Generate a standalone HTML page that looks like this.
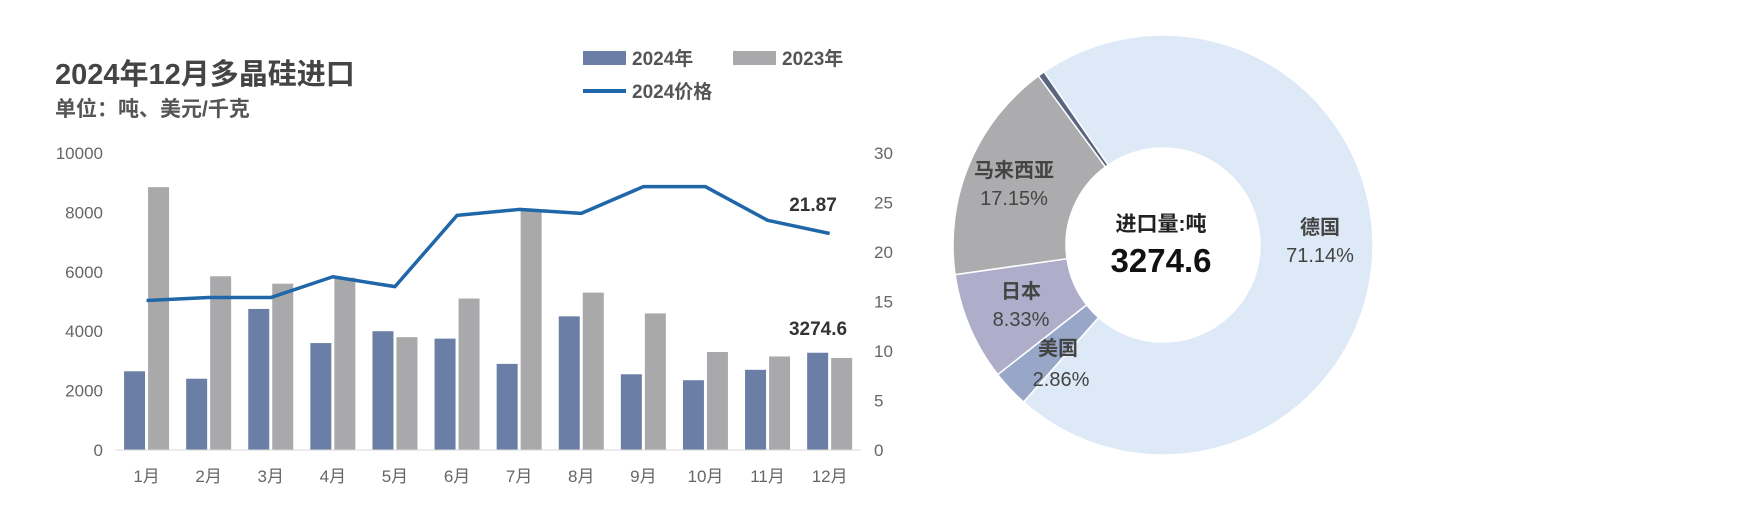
<!DOCTYPE html>
<html><head><meta charset="utf-8"><style>
body{margin:0;background:#fff;}
svg{display:block;font-family:"Liberation Sans","Noto Sans CJK SC",sans-serif;}
</style></head><body>
<svg id="c" width="1741" height="531" viewBox="0 0 1741 531">
<text x="55" y="84" font-size="29" font-weight="bold" fill="#444">2024年12月多晶硅进口</text>
<text x="55" y="116" font-size="21" font-weight="bold" fill="#555">单位：吨、美元/千克</text>
<g>
<rect x="583" y="51" width="43" height="14" fill="#6b7fa6"/>
<text x="632" y="65" font-size="19" font-weight="bold" fill="#555">2024年</text>
<rect x="733" y="51" width="43" height="14" fill="#a9a9ab"/>
<text x="782" y="65" font-size="19" font-weight="bold" fill="#555">2023年</text>
<line x1="583" y1="91" x2="626" y2="91" stroke="#1f67a8" stroke-width="4"/>
<text x="632" y="98" font-size="19" font-weight="bold" fill="#555">2024价格</text>
</g>
<g id="bars"></g><g id="axes"></g><g id="lineg"></g><g id="pie"></g>
<text x="813" y="211" font-size="19" font-weight="bold" fill="#333" text-anchor="middle">21.87</text>
<text x="818" y="335" font-size="19" font-weight="bold" fill="#333" text-anchor="middle">3274.6</text>
</svg>
<script>
const months=['1月','2月','3月','4月','5月','6月','7月','8月','9月','10月','11月','12月'];
const vol2024=[2650,2400,4750,3600,4000,3750,2900,4500,2550,2350,2700,3274.6];
const vol2023=[8850,5850,5600,5800,3800,5100,8050,5300,4600,3300,3150,3100];
const price2024=[15.1,15.4,15.4,17.5,16.5,23.7,24.3,23.9,26.6,26.6,23.2,21.87];
const leftTicks=[0,2000,4000,6000,8000,10000];
const rightTicks=[0,5,10,15,20,25,30];
const pieNames=['德国','美国','日本','马来西亚','其他'];
const pieValues=[71.14,2.86,8.33,17.15,0.52];
const pieLabels=['71.14%','2.86%','8.33%','17.15%',''];

const NS='http://www.w3.org/2000/svg';
function mk(tag,attrs,parent,txt){const e=document.createElementNS(NS,tag);for(const k in attrs)e.setAttribute(k,attrs[k]);if(txt!==undefined)e.textContent=txt;parent.appendChild(e);return e;}
const X0=115.5,BW=62.1,Y0=450,Y1=153;
const yL=v=>Y0-(v/10000)*(Y0-Y1);
const yR=v=>Y0-(v/30)*(Y0-Y1);
const xc=i=>X0+BW*(i+0.5);
const bars=document.getElementById('bars'),axes=document.getElementById('axes'),lg=document.getElementById('lineg');
months.forEach((m,i)=>{
  let r=mk('rect',{x:xc(i)-22.5,y:yL(vol2024[i]),width:21,height:Y0-yL(vol2024[i]),fill:'#6b7fa6'},bars);
  
  
  r=mk('rect',{x:xc(i)+1.5,y:yL(vol2023[i]),width:21,height:Y0-yL(vol2023[i]),fill:'#a9a9ab'},bars);
  
  
  const t=mk('text',{x:xc(i),y:482,'font-size':17,fill:'#666','text-anchor':'middle'},axes,m);
  
  
});
const base=mk('line',{x1:X0,y1:Y0,x2:X0+BW*12,y2:Y0,stroke:'#d8d8d8','stroke-width':1},axes);


leftTicks.forEach(v=>{const t=mk('text',{x:103,y:yL(v)+6,'font-size':17,fill:'#666','text-anchor':'end'},axes,v);
  
  });
rightTicks.forEach(v=>{const t=mk('text',{x:874,y:yR(v)+6,'font-size':17,fill:'#666'},axes,v);
  
  });
const pl=mk('polyline',{points:price2024.map((v,i)=>xc(i)+','+yR(v)).join(' '),fill:'none',stroke:'#1f67a8','stroke-width':3.5,'stroke-linejoin':'round'},lg);



const pie=document.getElementById('pie');
const CX=1163,CY=245,RO=210,RI=97,START=325.5;
const cols=['#dde9f6','#98a6c8','#aeaecb','#acacae','#5a6680'];
const tot=pieValues.reduce((a,b)=>a+b,0);
const pt=(a,r)=>[CX+r*Math.sin(a*Math.PI/180),CY-r*Math.cos(a*Math.PI/180)];
let a=START;
const labelPos=[[1320,227],[1058,348],[1021,291],[1014,170]];
pieValues.forEach((v,i)=>{
  const sw=v/tot*360,a2=a+sw,lf=sw>180?1:0;
  const p1=pt(a,RO),p2=pt(a2,RO),p3=pt(a2,RI),p4=pt(a,RI);
  const d=`M${p1}L${p1}A${RO},${RO} 0 ${lf} 1 ${p2}L${p3}A${RI},${RI} 0 ${lf} 0 ${p4}Z`;
  const s=mk('path',{d:d,fill:cols[i],stroke:'#fff','stroke-width':1.5},pie);
  
  
  if(labelPos[i]){
    const t1=mk('text',{x:labelPos[i][0],y:labelPos[i][1]+7,'font-size':20,'font-weight':'bold',fill:'#444','text-anchor':'middle'},pie,pieNames[i]);
    
    
    const t2=mk('text',{x:labelPos[i][0]+(i===1?3:0),y:labelPos[i][1]+(i===1?38:35),'font-size':20,fill:'#444','text-anchor':'middle'},pie,pieLabels[i]);
    
    
  }
  a=a2;
});
const c1=mk('text',{x:1161,y:231,'font-size':21,'font-weight':'bold',fill:'#222','text-anchor':'middle'},pie,'进口量:吨');


const c2=mk('text',{x:1161,y:272,'font-size':33,'font-weight':'bold',fill:'#111','text-anchor':'middle'},pie,'3274.6');


</script>
</body></html>
